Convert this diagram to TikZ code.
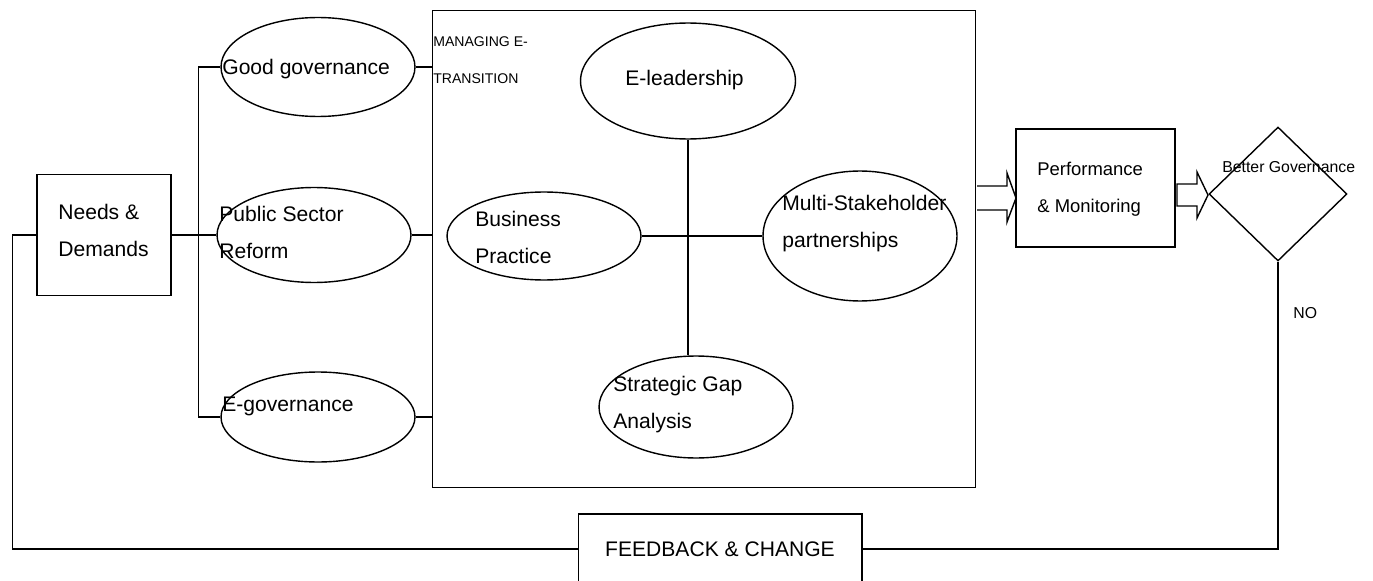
\documentclass[tikz,border=0pt]{standalone}
\usepackage{fontspec}
\setmainfont{Liberation Sans}
\usetikzlibrary{shapes.geometric}

\begin{document}
\begin{tikzpicture}[x=0.02cm, y=-0.02cm,
    box/.style={
        draw,
        line width=0.6pt,
        inner sep=0pt,
        align=center,
        anchor=center
    },
    bubble/.style={
        draw,
        ellipse,
        line width=0.8pt,
        inner sep=0pt,
        minimum width=3.88cm,
        anchor=center
    },
    decision/.style={
        draw,
        diamond,
        line width=0.8pt,
        inner sep=0pt,
        minimum width=2.76cm,
        minimum height=2.68cm
    },
    txt/.style={
        anchor=north west,
        inner sep=0pt,
        align=left,
        font=\fontsize{12}{21}\selectfont
    },
    link/.style={line width=0.8pt}]

    \useasboundingbox (0,0) rectangle (1373,581);
    \clip (0,0) rectangle (1373,581);

    % boxes
    \node[box, minimum width=2.68cm, minimum height=2.42cm] (needs) at (104,235) {};
    \node[box, minimum width=10.88cm, minimum height=9.56cm] (trans) at (704,249) {};
    \node[box, minimum width=3.18cm, minimum height=2.36cm] (perf) at (1095.5,188) {};
    \node[decision] (better) at (1278,194) {};
    \node[box, minimum width=5.68cm, minimum height=1.4cm,
          font=\fontsize{12}{14}\selectfont] (fb) at (720,549) {FEEDBACK \& CHANGE};

    % ellipses
    \node[bubble, minimum height=1.98cm] (gg) at (318,67) {};
    \node[bubble, minimum height=1.9cm] (ps) at (314,235) {};
    \node[bubble, minimum height=1.8cm] (eg) at (318,417) {};
    \node[bubble, minimum width=4.3cm, minimum height=2.32cm] (eleader) at (688,81) {};
    \node[bubble, minimum height=1.76cm] (biz) at (544,236) {};
    \node[bubble, minimum height=2.6cm] (multi) at (860,236) {};
    \node[bubble, minimum height=2.04cm] (strat) at (696,407) {};

    % texts
    \node[txt] (needstxt) at (58,204) {Needs \&\\Demands};
    \node[txt] (ggtxt) at (222,59) {Good governance};
    \node[txt] (pstxt) at (219,206) {Public Sector\\Reform};
    \node[txt] (egtxt) at (222,397) {E-governance};
    \node[txt, font=\fontsize{8}{21.5}\selectfont] (transtxt) at (433,36) {MANAGING E-\\TRANSITION};
    \node[txt] (eleadertxt) at (625,70) {E-leadership};
    \node[txt] (biztxt) at (475,211) {Business\\Practice};
    \node[txt] (multitxt) at (782,195) {Multi-Stakeholder\\partnerships};
    \node[txt] (strattxt) at (613,376) {Strategic Gap\\Analysis};
    \node[txt, font=\fontsize{10.5}{21}\selectfont] (perftxt) at (1037,162) {Performance\\\& Monitoring};
    \node[txt, font=\fontsize{9}{11}\selectfont] (bettertxt) at (1222,161) {Better Governance};
    \node[txt, font=\fontsize{9}{11}\selectfont] (notxt) at (1293,307) {NO};

    % connectors
    \draw[link] (gg.west) -- ++(-22,0) |- (eg.west);
    \draw[link] (needs.east) -- (ps.west);
    \draw[link] (gg.east) -- (gg.east -| trans.west);
    \draw[link] (ps.east) -- (ps.east -| trans.west);
    \draw[link] (eg.east) -- ++(17,0);
    \draw[link] (eleader.south) -- (eleader.south |- strat.north);
    \draw[link] (biz.east) -- (multi.west);
    \draw[link] (needs.west) -- ++(-24,0) |- (fb.west);
    \draw[link] (better.south) |- (fb.east);

    % block arrows
    \draw[link] (977,186) -- (1007,186) -- (1007,173) -- (1016,198)
        -- (1007,222) -- (1007,210) -- (977,210);
    \draw[link] (1177,184) -- (1197,184) -- (1197,172) -- (1208,195)
        -- (1197,218) -- (1197,206) -- (1177,206) -- cycle;

\end{tikzpicture}
\end{document}
